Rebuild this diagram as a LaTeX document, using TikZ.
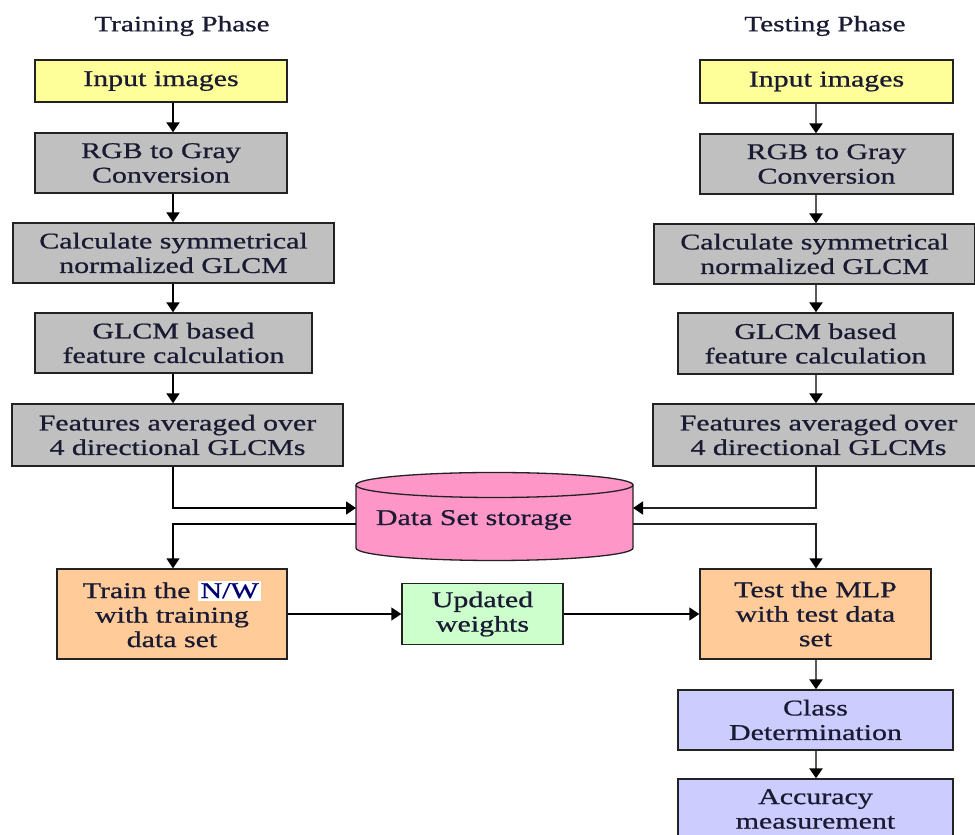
\documentclass[tikz,border=0pt]{standalone}
\usepackage{fontspec}
\setmainfont{Liberation Serif}[FakeStretch=1.33,FakeBold=0.8]
\usetikzlibrary{arrows.meta}
\definecolor{cyel}{HTML}{FFFF99}
\definecolor{cgray}{HTML}{C0C0C0}
\definecolor{cpink}{HTML}{FF96C8}
\definecolor{corange}{HTML}{FFCC99}
\definecolor{cgreen}{HTML}{CCFFCC}
\definecolor{clav}{HTML}{CCCCFF}
\definecolor{txt}{HTML}{1A1A33}
\definecolor{boxline}{HTML}{222222}
\definecolor{rshaft}{HTML}{5A5A5A}
\begin{document}
\begin{tikzpicture}[x=1pt,y=1pt,
  box/.style={draw=boxline, line width=1.4pt, align=center, inner sep=0pt, text=txt,
    font=\fontsize{22.5}{24.5}\selectfont},
  ttl/.style={text=txt, inner sep=0pt, font=\fontsize{22}{24}\selectfont},
  tip/.style={-{Triangle[length=10pt,width=13pt,color=black]}},
  lv/.style={tip, draw=black, line width=2pt},
  rv/.style={tip, draw=rshaft, line width=2.8pt},
  hl/.style={tip, draw=black, line width=1.5pt},
  hr/.style={tip, draw=boxline, line width=1.5pt}]
\useasboundingbox (0,0) rectangle (975,835);
\fill[white] (0,0) rectangle (975,835);

% titles
\node[ttl] (t1) at (182,809) {Training Phase};
\node[ttl] (t2) at (825,809) {Testing Phase};

% left column
\node[box, fill=cyel, minimum width=252pt, minimum height=42pt] (lin) at (161,754) {Input images};
\node[box, fill=cgray, minimum width=252pt, minimum height=60pt] (lrgb) at (161,672) {RGB to Gray\\Conversion};
\node[box, fill=cgray, minimum width=321pt, minimum height=60pt] (lcalc) at (173.5,582) {Calculate symmetrical\\normalized GLCM};
\node[box, fill=cgray, minimum width=277pt, minimum height=60pt] (lglcm) at (173.5,492) {GLCM based\\feature calculation};
\node[box, fill=cgray, minimum width=331pt, minimum height=62pt] (lfeat) at (177.5,400) {Features averaged over\\4 directional GLCMs};
\node[box, fill=corange, minimum width=230pt, minimum height=90pt] (ltrain) at (172,221) {Train the {\fboxsep=2.5pt\colorbox{white}{\color{blue!45!black}N/W}}\\with training\\data set};
\node[box, fill=cgreen, minimum width=161pt, minimum height=61pt] (upd) at (482.5,221) {Updated\\weights};

% right column
\node[box, fill=cyel, minimum width=253pt, minimum height=43pt] (rin) at (826.5,753.5) {Input images};
\node[box, fill=cgray, minimum width=253pt, minimum height=60pt] (rrgb) at (826.5,671) {RGB to Gray\\Conversion};
\node[box, fill=cgray, minimum width=321pt, minimum height=60pt] (rcalc) at (814.5,581) {Calculate symmetrical\\normalized GLCM};
\node[box, fill=cgray, minimum width=275pt, minimum height=61pt] (rglcm) at (815.5,491.5) {GLCM based\\feature calculation};
\node[box, fill=cgray, minimum width=331pt, minimum height=62pt] (rfeat) at (818.5,400) {Features averaged over\\4 directional GLCMs};
\node[box, fill=corange, minimum width=231pt, minimum height=90pt] (rtest) at (815.5,221) {Test the MLP\\with test data\\set};
\node[box, fill=clav, minimum width=275pt, minimum height=60pt] (rclass) at (815.5,115) {Class\\Determination};
\node[box, fill=clav, minimum width=275pt, minimum height=60pt] (racc) at (815.5,26) {Accuracy\\measurement};

% cylinder (data set storage)
\fill[cpink] (356,350) -- (356,287) arc[start angle=180,end angle=360,x radius=138.5,y radius=12.5]
  -- (633,350) arc[start angle=0,end angle=180,x radius=138.5,y radius=12.5] -- cycle;
\draw[boxline, line width=1.3pt] (356,350) -- (356,287) arc[start angle=180,end angle=360,x radius=138.5,y radius=12.5] -- (633,350);
\draw[boxline, line width=1.3pt] (494.5,350) ellipse[x radius=138.5,y radius=12.5];
\node[text=txt, inner sep=0pt, anchor=base, font=\fontsize{22.5}{24.5}\selectfont] (ds) at (474,310) {Data Set storage};

% named points
\coordinate (lx) at (173,0);
\coordinate (rx) at (816,0);
\coordinate (dsLin) at (356,327);
\coordinate (dsLout) at (356,311);
\coordinate (dsRin) at (633,327);
\coordinate (dsRout) at (633,311);

% left connectors
\draw[lv] (lin.south -| lx) -- (lrgb.north -| lx);
\draw[lv] (lrgb.south -| lx) -- (lcalc.north -| lx);
\draw[lv] (lcalc.south -| lx) -- (lglcm.north -| lx);
\draw[lv] (lglcm.south -| lx) -- (lfeat.north -| lx);
\draw[hl] (lfeat.south -| lx) |- (dsLin);
\draw[hl] (dsLout) -| (ltrain.north -| lx);
\draw[hl] (ltrain.east) -- (upd.west);
\draw[hl] (upd.east) -- (rtest.west);

% right connectors
\draw[rv] (rin.south -| rx) -- (rrgb.north -| rx);
\draw[rv] (rrgb.south -| rx) -- (rcalc.north -| rx);
\draw[rv] (rcalc.south -| rx) -- (rglcm.north -| rx);
\draw[rv] (rglcm.south -| rx) -- (rfeat.north -| rx);
\draw[hr] (rfeat.south -| rx) |- (dsRin);
\draw[hr] (dsRout) -| (rtest.north -| rx);
\draw[rv] (rtest.south -| rx) -- (rclass.north -| rx);
\draw[rv] (rclass.south -| rx) -- (racc.north -| rx);
\end{tikzpicture}
\end{document}
